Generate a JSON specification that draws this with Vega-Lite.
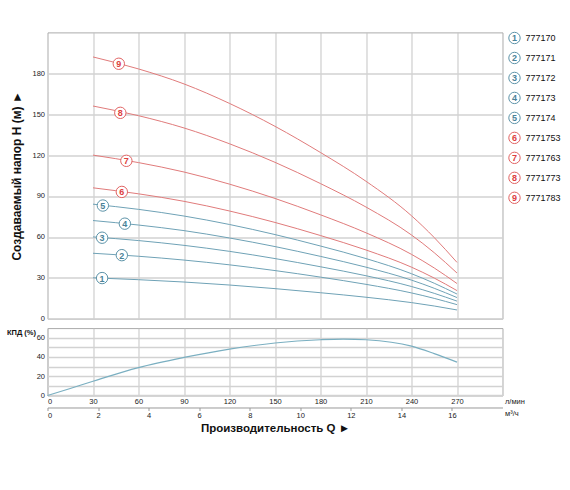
{
  "$schema": "https://vega.github.io/schema/vega-lite/v6.json",
  "padding": {"left": 5.5, "top": 29.4, "right": 5, "bottom": 5},
  "bounds": "flush",
  "align": "each",
  "columns": 2,
  "spacing": {"row": 8.7, "column": 5},
  "datasets": {
    "head": [
      {"s": "1", "q": 30, "h": 30}, {"s": "1", "q": 60, "h": 28.6}, {"s": "1", "q": 90, "h": 26.9}, {"s": "1", "q": 120, "h": 24.7}, {"s": "1", "q": 150, "h": 22.05}, {"s": "1", "q": 180, "h": 19.05}, {"s": "1", "q": 210, "h": 15.75}, {"s": "1", "q": 240, "h": 11.8}, {"s": "1", "q": 255, "h": 9.3}, {"s": "1", "q": 270, "h": 6.4},
      {"s": "2", "q": 30, "h": 48}, {"s": "2", "q": 60, "h": 45.8}, {"s": "2", "q": 90, "h": 43.0}, {"s": "2", "q": 120, "h": 39.5}, {"s": "2", "q": 150, "h": 35.3}, {"s": "2", "q": 180, "h": 30.5}, {"s": "2", "q": 210, "h": 25.2}, {"s": "2", "q": 240, "h": 18.9}, {"s": "2", "q": 255, "h": 14.9}, {"s": "2", "q": 270, "h": 10.3},
      {"s": "3", "q": 30, "h": 60}, {"s": "3", "q": 60, "h": 57.3}, {"s": "3", "q": 90, "h": 53.8}, {"s": "3", "q": 120, "h": 49.4}, {"s": "3", "q": 150, "h": 44.1}, {"s": "3", "q": 180, "h": 38.1}, {"s": "3", "q": 210, "h": 31.5}, {"s": "3", "q": 240, "h": 23.6}, {"s": "3", "q": 255, "h": 18.6}, {"s": "3", "q": 270, "h": 12.9},
      {"s": "4", "q": 30, "h": 72}, {"s": "4", "q": 60, "h": 68.7}, {"s": "4", "q": 90, "h": 64.6}, {"s": "4", "q": 120, "h": 59.2}, {"s": "4", "q": 150, "h": 52.9}, {"s": "4", "q": 180, "h": 45.7}, {"s": "4", "q": 210, "h": 37.8}, {"s": "4", "q": 240, "h": 28.3}, {"s": "4", "q": 255, "h": 22.3}, {"s": "4", "q": 270, "h": 15.5},
      {"s": "5", "q": 30, "h": 84}, {"s": "5", "q": 60, "h": 80.2}, {"s": "5", "q": 90, "h": 75.3}, {"s": "5", "q": 120, "h": 69.1}, {"s": "5", "q": 150, "h": 61.7}, {"s": "5", "q": 180, "h": 53.3}, {"s": "5", "q": 210, "h": 44.1}, {"s": "5", "q": 240, "h": 33.0}, {"s": "5", "q": 255, "h": 26.0}, {"s": "5", "q": 270, "h": 18.1},
      {"s": "6", "q": 30, "h": 96}, {"s": "6", "q": 60, "h": 91.6}, {"s": "6", "q": 90, "h": 86.1}, {"s": "6", "q": 120, "h": 79.0}, {"s": "6", "q": 150, "h": 70.6}, {"s": "6", "q": 180, "h": 61.0}, {"s": "6", "q": 210, "h": 50.4}, {"s": "6", "q": 240, "h": 37.8}, {"s": "6", "q": 255, "h": 29.8}, {"s": "6", "q": 270, "h": 20.6},
      {"s": "7", "q": 30, "h": 120}, {"s": "7", "q": 60, "h": 114.5}, {"s": "7", "q": 90, "h": 107.6}, {"s": "7", "q": 120, "h": 98.7}, {"s": "7", "q": 150, "h": 88.2}, {"s": "7", "q": 180, "h": 76.2}, {"s": "7", "q": 210, "h": 63.0}, {"s": "7", "q": 240, "h": 47.2}, {"s": "7", "q": 255, "h": 37.2}, {"s": "7", "q": 270, "h": 25.8},
      {"s": "8", "q": 30, "h": 156}, {"s": "8", "q": 60, "h": 148.9}, {"s": "8", "q": 90, "h": 139.9}, {"s": "8", "q": 120, "h": 128.3}, {"s": "8", "q": 150, "h": 114.7}, {"s": "8", "q": 180, "h": 99.1}, {"s": "8", "q": 210, "h": 81.9}, {"s": "8", "q": 240, "h": 61.4}, {"s": "8", "q": 255, "h": 48.4}, {"s": "8", "q": 270, "h": 33.5},
      {"s": "9", "q": 30, "h": 192}, {"s": "9", "q": 60, "h": 183.2}, {"s": "9", "q": 90, "h": 172.2}, {"s": "9", "q": 120, "h": 157.9}, {"s": "9", "q": 150, "h": 141.1}, {"s": "9", "q": 180, "h": 121.9}, {"s": "9", "q": 210, "h": 100.8}, {"s": "9", "q": 240, "h": 75.5}, {"s": "9", "q": 255, "h": 59.5}, {"s": "9", "q": 270, "h": 41.3}
    ],
    "tags": [
      {"s": "9", "q": 47, "h": 187},
      {"s": "8", "q": 48, "h": 151},
      {"s": "7", "q": 52, "h": 115.8},
      {"s": "6", "q": 49, "h": 93},
      {"s": "5", "q": 36.5, "h": 83},
      {"s": "4", "q": 51, "h": 69.7},
      {"s": "3", "q": 36, "h": 59.4},
      {"s": "2", "q": 49, "h": 46.6},
      {"s": "1", "q": 36, "h": 29.8}
    ],
    "kpd": [
      {"q": 0, "m": 0, "e": 0},
      {"q": 15, "m": 0.9, "e": 7.3},
      {"q": 30, "m": 1.8, "e": 14.8},
      {"q": 60, "m": 3.6, "e": 29},
      {"q": 90, "m": 5.4, "e": 39.5},
      {"q": 120, "m": 7.2, "e": 48.2},
      {"q": 150, "m": 9, "e": 54.5},
      {"q": 180, "m": 10.8, "e": 57.9},
      {"q": 195, "m": 11.7, "e": 58.6},
      {"q": 210, "m": 12.6, "e": 57.9},
      {"q": 240, "m": 14.4, "e": 51.3},
      {"q": 255, "m": 15.3, "e": 43.5},
      {"q": 270, "m": 16.2, "e": 34.7}
    ],
    "models": [
      {"s": "1", "k": 1, "label": "777170"},
      {"s": "2", "k": 2, "label": "777171"},
      {"s": "3", "k": 3, "label": "777172"},
      {"s": "4", "k": 4, "label": "777173"},
      {"s": "5", "k": 5, "label": "777174"},
      {"s": "6", "k": 6, "label": "7771753"},
      {"s": "7", "k": 7, "label": "7771763"},
      {"s": "8", "k": 8, "label": "7771773"},
      {"s": "9", "k": 9, "label": "7771783"}
    ]
  },
  "concat": [
    {
      "width": 455,
      "height": 286.3,
      "layer": [
        {
          "data": {"name": "head"},
          "mark": {"type": "line", "strokeWidth": 1, "interpolate": "monotone"},
          "encoding": {
            "x": {
              "field": "q", "type": "quantitative",
              "scale": {"domain": [0, 300], "nice": false},
              "axis": {"values": [30, 60, 90, 120, 150, 180, 210, 240, 270], "labels": false, "ticks": false, "domain": false, "title": null, "grid": true, "gridColor": "#c4c4c4", "gridWidth": 1}
            },
            "y": {
              "field": "h", "type": "quantitative",
              "scale": {"domain": [0, 210], "nice": false},
              "axis": {
                "values": [0, 30, 60, 90, 120, 150, 180],
                "grid": true, "gridColor": "#d2d2d2", "gridWidth": 1.5,
                "ticks": false, "tickSize": 0, "domain": false, "labelPadding": 3,
                "title": "Создаваемый напор H (м) ►",
                "titleFontSize": 12, "titleFontWeight": "bold", "titleColor": "#111",
                "titleX": -31, "titleY": 143, "titleAngle": 270,
                "titleAlign": "center", "titleBaseline": "middle"
              }
            },
            "color": {
              "field": "s", "type": "nominal", "legend": null,
              "scale": {"domain": ["1", "2", "3", "4", "5", "6", "7", "8", "9"], "range": ["#6ea2b6", "#6ea2b6", "#6ea2b6", "#6ea2b6", "#6ea2b6", "#e07a7a", "#e07a7a", "#e07a7a", "#e07a7a"]}
            }
          }
        },
        {
          "data": {"name": "tags"},
          "mark": {"type": "point", "shape": "circle", "filled": false, "fill": "white", "size": 130, "strokeWidth": 1, "opacity": 1},
          "encoding": {
            "x": {"field": "q", "type": "quantitative"},
            "y": {"field": "h", "type": "quantitative"},
            "stroke": {
              "field": "s", "type": "nominal", "legend": null,
              "scale": {"domain": ["1", "2", "3", "4", "5", "6", "7", "8", "9"], "range": ["#5c93a8", "#5c93a8", "#5c93a8", "#5c93a8", "#5c93a8", "#e06262", "#e06262", "#e06262", "#e06262"]}
            }
          }
        },
        {
          "data": {"name": "tags"},
          "mark": {"type": "text", "fontSize": 9, "fontWeight": "bold", "align": "center", "baseline": "middle", "dy": 0.5},
          "encoding": {
            "x": {"field": "q", "type": "quantitative"},
            "y": {"field": "h", "type": "quantitative"},
            "text": {"field": "s"},
            "fill": {
              "field": "s", "type": "nominal", "legend": null,
              "scale": {"domain": ["1", "2", "3", "4", "5", "6", "7", "8", "9"], "range": ["#4a8298", "#4a8298", "#4a8298", "#4a8298", "#4a8298", "#dd4040", "#dd4040", "#dd4040", "#dd4040"]}
            }
          }
        }
      ]
    },
    {
      "width": 14,
      "height": 171,
      "view": {"stroke": null},
      "data": {"name": "models"},
      "layer": [
        {
          "mark": {"type": "point", "shape": "circle", "filled": false, "fill": "white", "size": 130, "strokeWidth": 1, "opacity": 1},
          "encoding": {
            "y": {"field": "k", "type": "quantitative", "scale": {"domain": [0.72, 9.28], "reverse": true, "nice": false, "zero": false}, "axis": null},
            "stroke": {
              "field": "s", "type": "nominal", "legend": null,
              "scale": {"domain": ["1", "2", "3", "4", "5", "6", "7", "8", "9"], "range": ["#5c93a8", "#5c93a8", "#5c93a8", "#5c93a8", "#5c93a8", "#e06262", "#e06262", "#e06262", "#e06262"]}
            }
          }
        },
        {
          "mark": {"type": "text", "fontSize": 9, "fontWeight": "bold", "align": "center", "baseline": "middle", "dy": 0.5},
          "encoding": {
            "y": {"field": "k", "type": "quantitative"},
            "text": {"field": "s"},
            "fill": {
              "field": "s", "type": "nominal", "legend": null,
              "scale": {"domain": ["1", "2", "3", "4", "5", "6", "7", "8", "9"], "range": ["#4a8298", "#4a8298", "#4a8298", "#4a8298", "#4a8298", "#dd4040", "#dd4040", "#dd4040", "#dd4040"]}
            }
          }
        },
        {
          "mark": {"type": "text", "fontSize": 9, "align": "left", "baseline": "middle", "dx": 11, "color": "#111"},
          "encoding": {
            "y": {"field": "k", "type": "quantitative"},
            "text": {"field": "label"}
          }
        }
      ]
    },
    {
      "width": 455,
      "height": 67.4,
      "data": {"name": "kpd"},
      "layer": [
        {
          "mark": {"type": "line", "color": "#7aafc1", "strokeWidth": 1.2, "interpolate": "monotone"},
          "encoding": {
            "x": {
              "field": "q", "type": "quantitative",
              "scale": {"domain": [0, 300], "nice": false},
              "axis": {
                "orient": "bottom",
                "values": [0, 30, 60, 90, 120, 150, 180, 210, 240, 270],
                "grid": true, "gridColor": "#c4c4c4", "gridWidth": 1,
                "ticks": false, "tickSize": 0, "domain": false, "labelPadding": 2,
                "title": "л/мин", "titleX": 457, "titleY": 6, "titleAlign": "left", "titleBaseline": "middle",
                "titleFontSize": 7.5, "titleFontWeight": "normal", "titleColor": "#222"
              }
            },
            "y": {
              "field": "e", "type": "quantitative",
              "scale": {"domain": [0, 70], "nice": false},
              "axis": {
                "orient": "left",
                "values": [0, 20, 40, 60],
                "labelOverlap": false,
                "grid": true, "gridColor": "#d2d2d2", "gridWidth": 1.5,
                "ticks": false, "tickSize": 0, "domain": false, "labelPadding": 3,
                "title": "КПД (%)", "titleAngle": 0, "titleX": -41, "titleY": 4.5,
                "titleAlign": "left", "titleBaseline": "middle",
                "titleFontSize": 7.5, "titleFontWeight": "bold", "titleColor": "#111"
              }
            }
          }
        },
        {
          "mark": {"type": "point", "opacity": 0},
          "encoding": {
            "x": {
              "field": "m", "type": "quantitative",
              "scale": {"domain": [0, 18], "nice": false},
              "axis": {
                "orient": "bottom", "offset": 12,
                "values": [0, 2, 4, 6, 8, 10, 12, 14, 16],
                "grid": false, "domain": true, "domainColor": "#999999",
                "ticks": true, "tickSize": 3, "tickColor": "#999999", "labelPadding": 1,
                "title": "м³/ч", "titleX": 457, "titleY": 6.5, "titleAlign": "left", "titleBaseline": "middle",
                "titleFontSize": 7.5, "titleFontWeight": "normal", "titleColor": "#222"
              }
            },
            "y": {
              "field": "e", "type": "quantitative",
              "scale": {"domain": [0, 70], "nice": false},
              "axis": {
                "orient": "left", "values": [10, 30, 50], "labels": false, "ticks": false, "domain": false,
                "title": null, "grid": true, "gridColor": "#d2d2d2", "gridWidth": 1.5
              }
            }
          }
        },
        {
          "mark": {"type": "point", "opacity": 0},
          "encoding": {
            "x": {
              "field": "q", "type": "quantitative",
              "scale": {"domain": [0, 300], "nice": false},
              "axis": {
                "orient": "bottom", "labels": false, "ticks": false, "domain": false, "grid": false,
                "title": "Производительность Q ►", "titleX": 227.5, "titleY": 33,
                "titleAlign": "center", "titleBaseline": "middle",
                "titleFontSize": 11.5, "titleFontWeight": "bold", "titleColor": "#111"
              }
            },
            "y": {"field": "e", "type": "quantitative", "scale": {"domain": [0, 70], "nice": false}, "axis": null}
          }
        }
      ],
      "resolve": {"scale": {"x": "independent", "y": "independent"}}
    }
  ],
  "config": {
    "font": "Liberation Sans",
    "view": {"stroke": "#ababab"},
    "axis": {"labelFontSize": 7.5, "labelColor": "#222", "labelFont": "Liberation Sans", "titleFont": "Liberation Sans"}
  }
}
